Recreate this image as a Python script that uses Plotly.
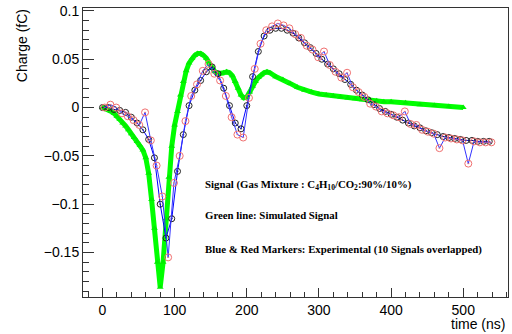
import plotly.graph_objects as go

# Simulated signal (green)
sim_t = [0, 4, 8, 12, 16, 20, 24, 28, 32, 36, 40, 44, 48, 52, 56, 60, 64, 68, 72, 76,
         80, 84, 88, 92, 96, 100, 104, 108, 112, 116, 120, 124, 128, 132, 136, 140, 144,
         148, 152, 156, 160, 164, 168, 172, 176, 180, 184, 188, 192, 196, 200, 204, 208,
         212, 216, 220, 224, 228, 232, 240, 250, 260, 270, 280, 290, 300, 310, 320, 330,
         340, 350, 360, 370, 380, 390, 400, 420, 440, 460, 480, 500]
sim_q = [0.000, -0.001, -0.002, -0.004, -0.006, -0.009, -0.012, -0.016, -0.019, -0.023,
         -0.027, -0.031, -0.035, -0.039, -0.044, -0.052, -0.068, -0.095, -0.125, -0.160,
         -0.186, -0.160, -0.115, -0.072, -0.040, -0.018, -0.004, 0.013, 0.027, 0.038,
         0.046, 0.051, 0.054, 0.056, 0.056, 0.054, 0.051, 0.046, 0.041, 0.037, 0.035,
         0.035, 0.036, 0.037, 0.036, 0.033, 0.027, 0.020, 0.013, 0.010, 0.011, 0.016,
         0.022, 0.027, 0.031, 0.034, 0.036, 0.037, 0.036, 0.032, 0.029, 0.025, 0.021,
         0.018, 0.016, 0.014, 0.013, 0.012, 0.011, 0.010, 0.009, 0.008, 0.008, 0.007,
         0.006, 0.006, 0.005, 0.003, 0.002, 0.001, 0.000]

# Experimental signal A (black circles)
expA_t = [0, 8, 16, 24, 32, 40, 48, 56, 64, 72, 80, 88, 96, 104, 112, 120, 128, 136, 144,
          152, 160, 168, 176, 184, 192, 200, 208, 216, 224, 232, 240, 248, 256, 264, 272,
          280, 288, 296, 304, 312, 320, 328, 336, 344, 352, 360, 368, 376, 384, 392, 400,
          408, 416, 424, 432, 440, 448, 456, 464, 472, 480, 488, 496, 504, 512, 520, 528, 536]
expA_q = [0.000, 0.000, -0.002, -0.003, -0.005, -0.010, -0.016, -0.023, -0.033, -0.052,
          -0.100, -0.135, -0.115, -0.066, -0.028, 0.002, 0.018, 0.028, 0.037, 0.042,
          0.035, 0.020, 0.002, -0.016, -0.022, 0.002, 0.032, 0.058, 0.074, 0.080, 0.082,
          0.082, 0.080, 0.077, 0.072, 0.067, 0.062, 0.056, 0.050, 0.045, 0.040, 0.035,
          0.029, 0.024, 0.018, 0.013, 0.008, 0.003, -0.001, -0.004, -0.007, -0.010,
          -0.013, -0.016, -0.019, -0.021, -0.024, -0.026, -0.028, -0.030, -0.031, -0.032,
          -0.033, -0.034, -0.034, -0.035, -0.035, -0.035]

# Experimental signal B (red circles)
expB_t = [3, 11, 19, 27, 35, 43, 51, 59, 67, 75, 83, 91, 99, 107, 115, 123, 131, 139, 147,
          155, 163, 171, 179, 187, 195, 203, 211, 219, 227, 235, 243, 251, 259, 267, 275,
          283, 291, 299, 307, 315, 323, 331, 339, 347, 355, 363, 371, 379, 387, 395, 403,
          411, 419, 427, 435, 443, 451, 459, 467, 475, 483, 491, 499, 507, 515, 523, 531, 539]
expB_q = [0.000, 0.003, 0.000, -0.006, -0.009, -0.013, -0.018, -0.005, -0.034, -0.060,
          -0.092, -0.155, -0.078, -0.050, -0.014, 0.012, 0.024, 0.038, 0.045, 0.035,
          0.028, 0.012, -0.010, -0.028, -0.031, 0.010, 0.040, 0.066, 0.080, 0.084, 0.087,
          0.085, 0.082, 0.076, 0.072, 0.064, 0.060, 0.052, 0.058, 0.044, 0.037, 0.031,
          0.036, 0.021, 0.016, 0.011, 0.004, 0.001, -0.004, -0.006, -0.008, -0.010,
          -0.004, -0.017, -0.018, -0.023, -0.025, -0.027, -0.042, -0.031, -0.032, -0.033,
          -0.034, -0.058, -0.035, -0.036, -0.036, -0.036]

notes = [
    "Signal (Gas Mixture : C<sub>4</sub>H<sub>10</sub>/CO<sub>2</sub>:90%/10%)",
    "Green line: Simulated Signal",
    "Blue & Red Markers: Experimental (10 Signals overlapped)",
]
notes_y = [-0.080, -0.111, -0.147]

fig = go.Figure()
fig.add_trace(go.Scatter(
    x=sim_t, y=sim_q, mode="lines+markers",
    line=dict(color="#00ff00", width=5),
    marker=dict(symbol="triangle-up", size=6, color="#00ee00"),
    showlegend=False))
fig.add_trace(go.Scatter(
    x=expA_t, y=expA_q, mode="lines+markers",
    line=dict(color="#0000ff", width=1),
    marker=dict(symbol="circle-open-dot", size=6, color="#222222", line=dict(width=1)),
    showlegend=False))
fig.add_trace(go.Scatter(
    x=expB_t, y=expB_q, mode="lines+markers",
    line=dict(color="#3333ff", width=1),
    marker=dict(symbol="circle-open-dot", size=7, color="#f07070", line=dict(width=1)),
    showlegend=False))

tickfont = dict(family="Liberation Sans, Arial, sans-serif", size=14, color="black")

fig.update_xaxes(range=[-27, 562], showgrid=False, zeroline=False, automargin=False,
                 showline=True, linecolor="#333", linewidth=1, mirror=True,
                 ticks="inside", ticklen=9, tickcolor="#333", dtick=100, tick0=0,
                 minor=dict(ticks="inside", ticklen=5, dtick=20, tickcolor="#333"),
                 tickfont=tickfont)
fig.update_yaxes(range=[-0.196, 0.103], showgrid=False, zeroline=False, automargin=False,
                 showline=True, linecolor="#333", linewidth=1, mirror=True,
                 ticks="inside", ticklen=11, tickcolor="#333", dtick=0.05, tick0=0,
                 minor=dict(ticks="inside", ticklen=6, dtick=0.01, tickcolor="#333"),
                 tickfont=tickfont)

annotations = []
for txt, yy in zip(notes, notes_y):
    annotations.append(dict(x=139.5, y=yy, xref="x", yref="y", text="<b>" + txt + "</b>",
                            showarrow=False, xanchor="left", yanchor="middle",
                            font=dict(family="Liberation Serif, Times New Roman, serif",
                                      size=10.8, color="black")))
annotations.append(dict(x=-0.1435, y=0.868, xref="paper", yref="paper", text="Charge (fC)",
                        textangle=-90, showarrow=False, xanchor="center", yanchor="middle",
                        font=tickfont))
annotations.append(dict(x=0.998, y=-0.093, xref="paper", yref="paper", text="time (ns)",
                        showarrow=False, xanchor="right", yanchor="middle",
                        font=tickfont))

fig.update_layout(template="none", width=512, height=334,
                  margin=dict(l=83, r=4, t=8, b=37, autoexpand=False),
                  paper_bgcolor="white", plot_bgcolor="white",
                  annotations=annotations, showlegend=False)

fig.write_html("out.html", config={"displayModeBar": False},
               post_script="document.body.style.margin='0px';")
